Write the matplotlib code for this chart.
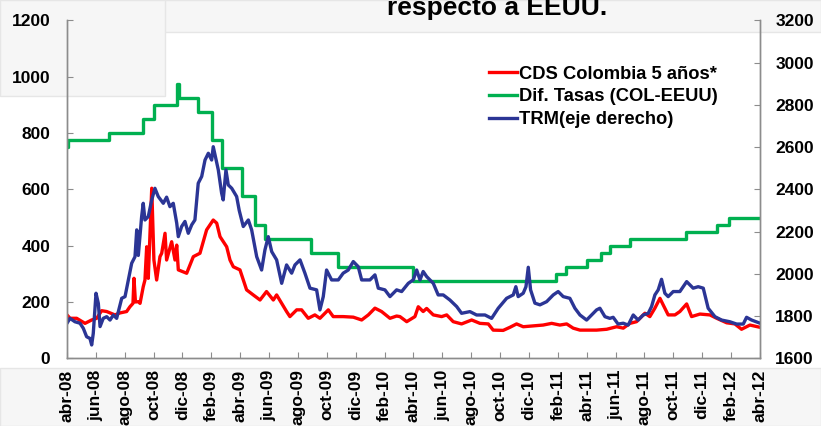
import numpy as np
import matplotlib.pyplot as plt
from matplotlib.patches import Rectangle

plt.rcParams['font.family'] = ['Liberation Sans', 'DejaVu Sans']
plt.rcParams['font.weight'] = 'bold'

# eje x: meses desde abr-08
tick_labels = ['abr-08', 'jun-08', 'ago-08', 'oct-08', 'dic-08', 'feb-09', 'abr-09',
               'jun-09', 'ago-09', 'oct-09', 'dic-09', 'feb-10', 'abr-10', 'jun-10',
               'ago-10', 'oct-10', 'dic-10', 'feb-11', 'abr-11', 'jun-11', 'ago-11',
               'oct-11', 'dic-11', 'feb-12', 'abr-12']

# Dif. Tasas (COL-EEUU), pb, escalones
tasas_mes = [0, 0.1, 2.93, 5.28, 6.05, 7.64, 7.75, 9.09, 10.04, 10.76, 12.1, 13.02, 13.71,
             16.9, 18.75, 24.0, 33.86, 34.56, 36.0, 36.96, 37.6, 38.99, 42.87, 45.0, 45.87, 48]
tasas_pb = [750, 775, 800, 850, 900, 975, 925, 875, 775, 675, 575, 475, 425,
            375, 325, 275, 300, 325, 350, 375, 400, 425, 450, 475, 500, 500]

# CDS Colombia 5 años, pb
cds_mes = [0, 0.21, 0.67, 1.25, 1.71, 2.06, 2.40, 2.75, 3.32, 3.67, 4.13, 4.36, 4.57, 4.64,
           4.74, 4.94, 5.06, 5.28, 5.40, 5.52, 5.63, 5.87, 6.02, 6.21, 6.44, 6.56, 6.79, 6.90,
           7.25, 7.48, 7.60, 7.71, 8.29, 8.75, 9.21, 9.67, 10.13, 10.37, 10.60, 11.06, 11.29,
           11.52, 11.98, 12.44, 12.90, 13.37, 13.82, 14.29, 14.52, 15.21, 15.44, 15.91, 16.25,
           16.71, 17.17, 17.52, 18.10, 18.44, 19.13, 19.83, 20.41, 20.87, 21.33, 21.79, 22.37,
           22.83, 23.06, 23.53, 24.10, 24.33, 24.67, 24.91, 25.37, 25.95, 26.30, 26.75, 27.33,
           28.03, 28.60, 29.18, 29.52, 30.21, 30.68, 31.14, 31.60, 32.29, 32.98, 33.57, 34.14,
           34.61, 35.06, 35.53, 36.68, 37.38, 38.07, 38.53, 38.99, 39.45, 39.80, 40.03, 40.37,
           40.72, 41.07, 41.30, 41.64, 42.11, 42.45, 42.92, 43.26, 43.84, 44.53, 45.0, 45.69,
           46.26, 46.72, 47.30, 48]
cds_pb = [154, 142, 142, 124, 136, 142, 169, 166, 154, 161, 166, 183, 195, 284,
          200, 201, 195, 254, 278, 396, 284, 604, 349, 278, 361, 373, 444, 349,
          414, 349, 402, 314, 302, 361, 373, 456, 491, 480, 432, 396, 349,
          325, 314, 243, 225, 207, 237, 207, 225, 166, 148, 172, 172,
          142, 154, 142, 172, 148, 148, 146, 136, 154, 178, 166, 142,
          150, 148, 130, 148, 183, 166, 177, 154, 148, 154, 130, 122,
          136, 124, 122, 100, 99, 110, 122, 112, 115, 118, 124, 118,
          122, 107, 100, 100, 103, 112, 107, 124, 130, 148, 160, 148,
          178, 213, 189, 154, 154, 166, 193, 148, 157, 154, 142, 126,
          122, 103, 118, 110]

# TRM (eje derecho), COP/USD
trm_mes = [0, 0.21, 0.55, 0.90, 1.13, 1.36, 1.59, 1.71, 1.82, 2.01, 2.17, 2.29, 2.51, 2.75,
           2.98, 3.21, 3.44, 3.79, 4.02, 4.25, 4.48, 4.71, 4.83, 4.94, 5.17, 5.28, 5.40, 5.63,
           5.87, 6.09, 6.32, 6.67, 6.90, 7.13, 7.36, 7.60, 7.71, 7.94, 8.17, 8.40, 8.64, 8.86,
           9.09, 9.33, 9.56, 9.79, 10.02, 10.13, 10.28, 10.48, 10.71, 10.82, 11.01, 11.17,
           11.41, 11.75, 11.93, 12.21, 12.56, 12.79, 13.14, 13.48, 13.71, 13.94, 14.18, 14.52,
           14.87, 15.21, 15.56, 15.79, 16.14, 16.48, 16.83, 17.29, 17.52, 17.75, 17.98, 18.33,
           18.79, 19.13, 19.48, 19.83, 20.17, 20.41, 20.98, 21.33, 21.56, 22.02, 22.37, 22.83,
           23.18, 23.64, 23.98, 24.22, 24.45, 24.67, 24.91, 25.37, 25.71, 26.06, 26.52, 26.99,
           27.33, 27.91, 28.37, 28.95, 29.41, 29.87, 30.45, 30.91, 31.09, 31.25, 31.60, 31.79,
           31.95, 32.11, 32.41, 32.76, 33.22, 33.68, 34.02, 34.37, 34.83, 35.18, 35.53, 35.99,
           36.34, 36.68, 36.91, 37.26, 37.60, 37.83, 38.17, 38.53, 38.87, 39.22, 39.56, 39.91,
           40.26, 40.49, 40.72, 40.95, 41.18, 41.41, 41.64, 41.99, 42.45, 42.92, 43.37, 43.72,
           44.07, 44.41, 44.88, 45.34, 45.91, 46.38, 46.84, 47.07, 47.42, 48]
trm_cop = [1766, 1789, 1773, 1766, 1742, 1702, 1694, 1663, 1718, 1908, 1860, 1750, 1789, 1797,
           1781, 1805, 1789, 1884, 1892, 1971, 2050, 2081, 2208, 2087, 2271, 2334, 2255, 2271,
           2350, 2405, 2366, 2334, 2363, 2318, 2334, 2240, 2176, 2224, 2248, 2192, 2232, 2255,
           2429, 2461, 2539, 2571, 2539, 2602, 2555, 2492, 2382, 2350, 2492, 2421,
           2405, 2366, 2300, 2224, 2255, 2208, 2081, 2018, 2113, 2176, 2105, 2066,
           1955, 2042, 2003, 2042, 2066, 2003, 1932, 1924, 1829, 1892, 2018, 1971,
           1971, 2003, 2018, 2058, 2034, 1971, 1971, 1995, 1932, 1924, 1892, 1924,
           1916, 1955, 1971, 2018, 1971, 2011, 1987, 1955, 1900, 1900, 1876, 1845,
           1813, 1821, 1805, 1805, 1789, 1837, 1884, 1900, 1939, 1892, 1908, 1939,
           2031, 1924, 1861, 1853, 1868, 1900, 1916, 1892, 1884, 1837, 1805, 1781,
           1805, 1829, 1837, 1797, 1789, 1794, 1762, 1766, 1757, 1805, 1781, 1805,
           1813, 1845, 1900, 1924, 1974, 1908, 1892, 1916, 1916, 1963, 1932, 1939,
           1932, 1837, 1797, 1781, 1773, 1762, 1762, 1794, 1781, 1766]

fig = plt.figure(figsize=(8.21, 4.26), dpi=100)
fig.subplots_adjust(left=0.0816, right=0.9257, bottom=0.159, top=0.952)

# fondo de la diapositiva
bg = '#f6f6f6'
for x0, y0, w, h in [(0, 0.925, 1, 0.075), (0, 0.775, 0.201, 0.225), (0, 0, 1, 0.136)]:
    fig.add_artist(Rectangle((x0, y0), w, h, transform=fig.transFigure,
                             facecolor=bg, edgecolor='#e6e6e6', lw=1, zorder=-10))

ax = fig.add_subplot(111)
ax.set_facecolor('none')
ax2 = ax.twinx()

l1, = ax.plot(cds_mes, cds_pb, color='#ff0000', lw=2.4, label='CDS Colombia 5 años*')
l2, = ax.step(tasas_mes, tasas_pb, where='post', color='#00b050', lw=2.4,
              label='Dif. Tasas (COL-EEUU)')
l3, = ax2.plot(trm_mes, trm_cop, color='#2b3595', lw=2.4, label='TRM(eje derecho)')

ax.set_xlim(0, 48)
ax.set_ylim(0, 1200)
ax2.set_ylim(1600, 3200)
ax.set_yticks(np.arange(0, 1201, 200))
ax2.set_yticks(np.arange(1600, 3201, 200))
ax.set_xticks(np.arange(0, 49, 2))
ax.set_xticklabels(tick_labels, rotation=90)

for a in (ax, ax2):
    for s in a.spines.values():
        s.set_color('#8c8c8c')
        s.set_linewidth(1)
    a.spines['top'].set_visible(False)
    a.tick_params(direction='in', length=4, color='#8c8c8c', labelsize=12.5)
ax.tick_params(axis='y', pad=12)
ax.tick_params(axis='x', pad=8)
ax2.tick_params(axis='y', pad=11)

fig.legend(handles=[l1, l2, l3], loc='upper left', bbox_to_anchor=(0.5956, 0.846),
           frameon=False, fontsize=13.2, handlelength=1.55, handletextpad=0.1,
           labelspacing=0.32, borderpad=0, borderaxespad=0)

fig.text(0.605, 0.965, 'respecto a EEUU.', ha='center', va='baseline',
         fontsize=19, fontweight='bold')

fig.savefig('out.png', dpi=100)
